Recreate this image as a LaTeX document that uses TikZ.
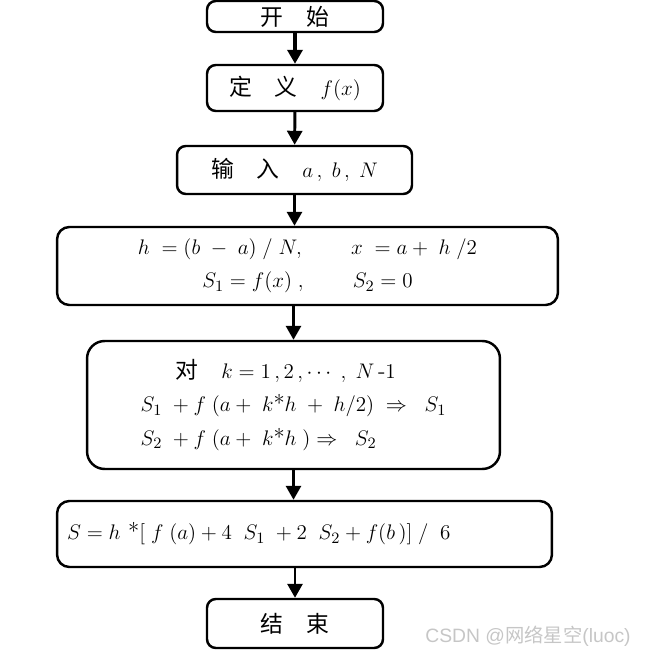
\documentclass[tikz,border=0pt]{standalone}
\usepackage{fontspec}
\newfontfamily\cjk{Noto Sans CJK SC}
\newfontfamily\wm{Liberation Sans}
\usetikzlibrary{arrows.meta}
\begin{document}
\begin{tikzpicture}[x=0.02cm, y=-0.02cm,
  box/.style={draw, line width=1.4pt, rounded corners=5pt, inner sep=0pt, align=center, font=\fontsize{13}{19}\selectfont},
  arr/.style={line width=1.7pt, -{Triangle[length=0.28cm,width=0.3cm]}}]
\useasboundingbox (0,0) rectangle (648,656);
\node[box, minimum width=3.52cm, minimum height=0.62cm] (start) at (295,16.5) {\cjk 开\quad 始};
\node[box, minimum width=3.52cm, minimum height=0.92cm] (def) at (295,88) {\raisebox{0.1cm}{{\cjk 定\quad 义}\quad $f(x)$}};
\node[box, minimum width=4.7cm, minimum height=0.96cm] (input) at (294.5,170) {\raisebox{-0.16cm}{{\cjk 输\quad 入}\quad $a\,,\; b\,,\; N$}};
\node[box, rounded corners=7pt, minimum width=10.02cm, minimum height=1.56cm] (calc) at (307.5,266)
  {$h\;=(b\;-\;a)\;/\;N,\qquad x\;=a+\;h\;/2$\\ $S_1=f(x)\;,\qquad S_2=0$};
\node[box, rounded corners=10pt, minimum width=8.26cm, minimum height=2.56cm, align=left] (loop) at (293.5,405)
  {\hspace{0.7cm}{\cjk 对}\quad $k=1\,,2\,,\cdots\;,\;N\,\mbox{-}1$\\
   $S_1\;+f\;(a+\;k\mbox{*}h\;+\;h/2)\;\Rightarrow\;\;S_1$\\
   $S_2\;+f\;(a+\;k\mbox{*}h\;)\Rightarrow\;\;S_2$};
\node[box, rounded corners=7pt, minimum width=9.9cm, minimum height=1.32cm, text width=9.5cm, align=left] (res) at (304.5,534)
  {$S=h\mbox{ *}[\;f\;(a)+4\;\;S_1\;+2\;\;S_2+f(b\,)]\;/\;\;6$};
\node[box, minimum width=3.52cm, minimum height=0.98cm] (stop) at (295,623.5) {\raisebox{-0.18cm}{\cjk 结\quad 束}};
\node[text=gray!45, font=\wm\fontsize{11}{11}\selectfont] (mark) at (528,636) {CSDN @{\cjk 网络星空}(luoc)};
\draw[arr, line width=2.4pt] (start) -- (def);
\draw[arr] (def) -- (input);
\draw[arr] (input.south) -- (input.south |- calc.north);
\draw[arr] (loop.north |- calc.south) -- (loop.north);
\draw[arr] (loop.south) -- (loop.south |- res.north);
\draw[arr] (stop.north |- res.south) -- (stop.north);
\end{tikzpicture}
\end{document}
